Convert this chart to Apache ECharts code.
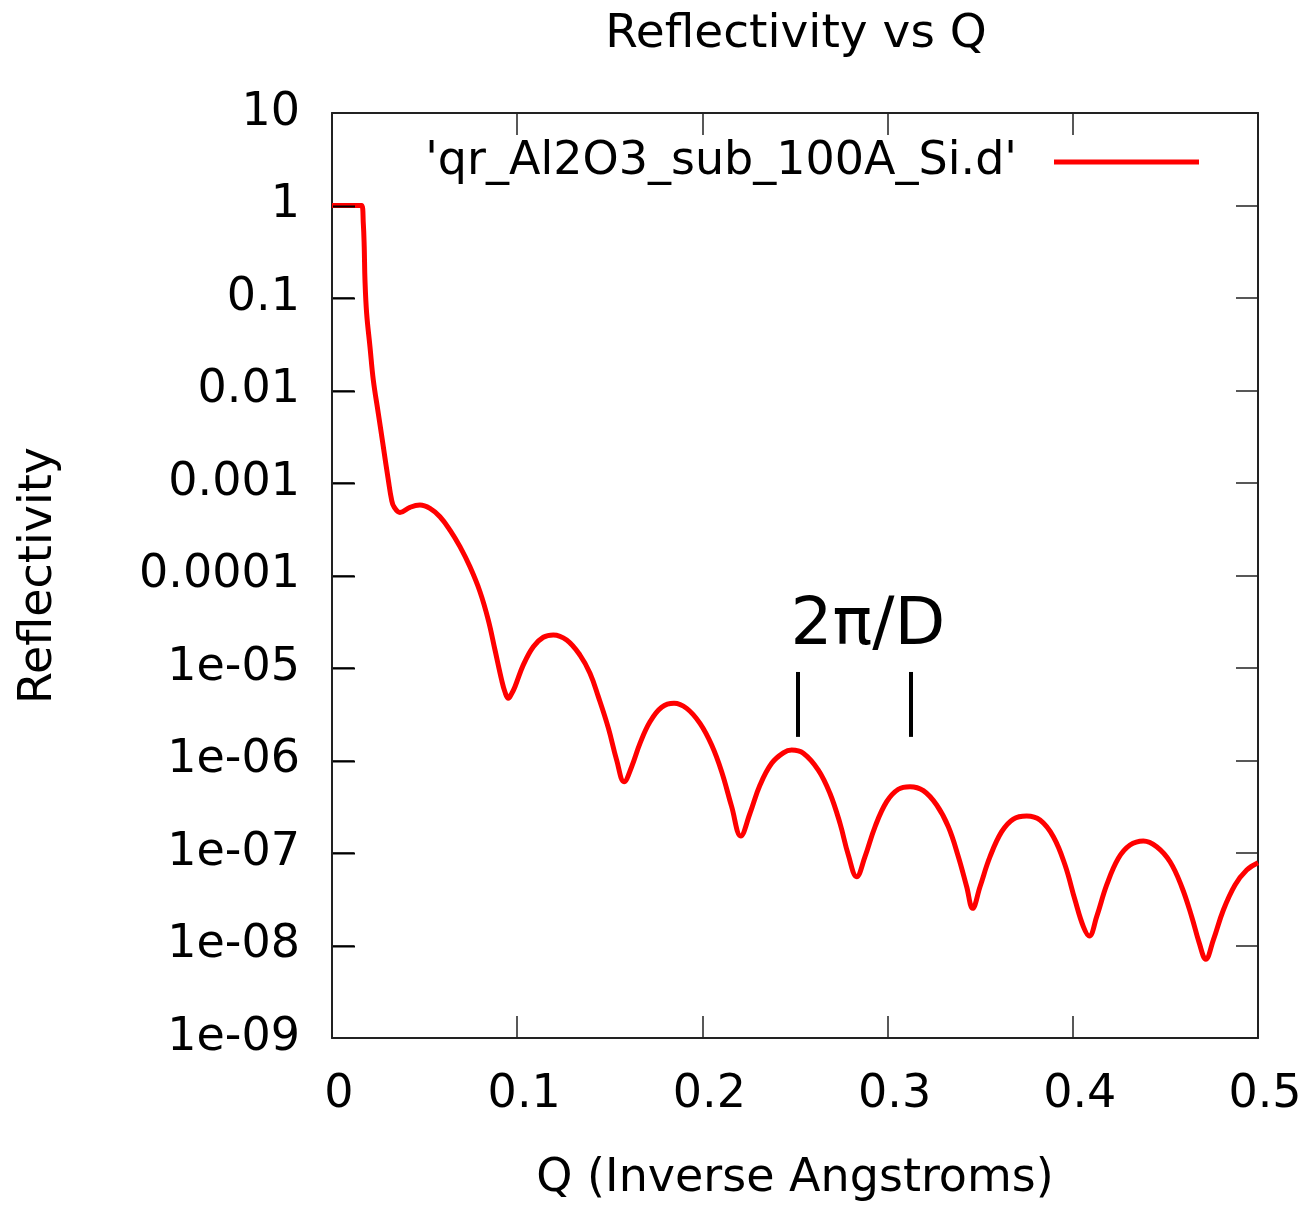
<!DOCTYPE html>
<html>
<head>
<meta charset="utf-8">
<script src="https://cdn.jsdelivr.net/npm/echarts@6/dist/echarts.min.js"></script>
<style>html,body{margin:0;padding:0;background:#fff}#c{width:1315px;height:1209px}</style>
</head>
<body>
<div id="c"></div>
<script>
// Q (inverse Angstroms)
const qValues = [0, 0.0160, 0.0169, 0.0174, 0.0178, 0.0187, 0.0205, 0.0223, 0.0250, 0.0277, 0.0304, 0.0322, 0.0335,
  0.0367, 0.0421, 0.0475, 0.0529, 0.0583, 0.0637, 0.0691, 0.0745, 0.0799, 0.0844, 0.0880, 0.0916, 0.0934, 0.0952,
  0.0969, 0.0988, 0.1033, 0.1087, 0.1141, 0.1195, 0.1267, 0.1339, 0.1393, 0.1438, 0.1492, 0.1537, 0.1577, 0.1618,
  0.1663, 0.1717, 0.1780, 0.1847, 0.1915, 0.1987, 0.2050, 0.2104, 0.2158, 0.2207, 0.2257, 0.2311, 0.2374, 0.2437,
  0.2482, 0.2545, 0.2626, 0.2689, 0.2743, 0.2788, 0.2833, 0.2878, 0.2932, 0.2995, 0.3058, 0.3121, 0.3193, 0.3265,
  0.3328, 0.3382, 0.3427, 0.3459, 0.3499, 0.3553, 0.3616, 0.3679, 0.3751, 0.3823, 0.3895, 0.3958, 0.4012, 0.4057,
  0.4089, 0.4129, 0.4183, 0.4246, 0.4309, 0.4381, 0.4453, 0.4525, 0.4588, 0.4642, 0.4683, 0.4718, 0.4759, 0.4813,
  0.4876, 0.4939, 0.5];
// Reflectivity
const reflValues = [1, 1, 0.642, 0.359, 0.157, 0.0684, 0.0298, 0.0130, 5.67e-3, 2.47e-3, 1.08e-3, 6.55e-4, 5.51e-4,
  4.80e-4, 5.46e-4, 5.78e-4, 5.32e-4, 4.32e-4, 3.10e-4, 2.05e-4, 1.24e-4, 6.68e-5, 3.30e-5, 1.57e-5, 7.41e-6, 5.50e-6, 4.70e-6,
  5.24e-6, 6.28e-6, 1.08e-5, 1.70e-5, 2.15e-5, 2.28e-5, 2.01e-5, 1.38e-5, 8.77e-6, 4.90e-6, 2.25e-6, 1.01e-6, 5.90e-7, 8.57e-7,
  1.53e-6, 2.62e-6, 3.76e-6, 4.15e-6, 3.66e-6, 2.52e-6, 1.47e-6, 7.57e-7, 3.17e-7, 1.53e-7, 2.69e-7, 5.43e-7, 9.33e-7, 1.21e-6,
  1.30e-6, 1.20e-6, 7.89e-7, 4.40e-7, 2.09e-7, 9.51e-8, 5.55e-8, 9.12e-8, 1.92e-7, 3.59e-7, 4.89e-7, 5.21e-7, 4.72e-7, 3.30e-7,
  1.92e-7, 9.12e-8, 4.32e-8, 2.52e-8, 4.32e-8, 9.12e-8, 1.70e-7, 2.33e-7, 2.51e-7, 2.27e-7, 1.50e-7, 7.41e-8, 3.10e-8, 1.60e-8,
  1.27e-8, 2.05e-8, 4.51e-8, 8.77e-8, 1.22e-7, 1.35e-7, 1.17e-7, 8.05e-8, 4.32e-8, 2.05e-8, 1.06e-8, 7.10e-9, 1.15e-8, 2.42e-8,
  4.51e-8, 6.55e-8, 7.85e-8];
const xTickLabels = ['0', '0.1', '0.2', '0.3', '0.4', '0.5'];
const yTickLabels = ['1e-09', '1e-08', '1e-07', '1e-06', '1e-05', '0.0001', '0.001', '0.01', '0.1', '1', '10'];
// annotation: 2π/D markers
const markerQ = [0.2516, 0.3126];
const markerTop = 9.06e-6, markerBottom = 1.80e-6;
const annotText = '2π/D';
const annotPos = [0.2894, 2.8e-5];
const seriesName = "'qr_Al2O3_sub_100A_Si.d'";

const FONT = 'DejaVu Sans';
const X_MIN = 0, X_MAX = 0.5;
const TICK_LEN = 22;
const chart = echarts.init(document.getElementById('c'), null, {renderer: 'canvas'});
const fmtY = v => {
  const e = Math.round(Math.log10(v));
  return yTickLabels[e + 9] !== undefined ? yTickLabels[e + 9] : '';
};
const fmtX = v => {
  const i = Math.round(v * 10);
  return xTickLabels[i] !== undefined ? xTickLabels[i] : '';
};
const axisLineStyle = {color: '#222', width: 2};
const tickStyle = {show: true, inside: true, length: TICK_LEN, lineStyle: {color: '#222', width: 1.5}};
const leftTickValues = yTickLabels.map(s => Number(s)).slice(1, -1);

chart.setOption({
  animation: false,
  backgroundColor: '#fff',
  textStyle: {fontFamily: FONT},
  title: {
    text: 'Reflectivity vs Q', left: 791, top: 6, textAlign: 'center',
    textStyle: {fontFamily: FONT, fontSize: 47, fontWeight: 'normal', color: '#000'}
  },
  legend: {
    right: 111, top: 134, align: 'right', icon: 'rect', itemWidth: 145, itemHeight: 5, itemGap: 0,
    textStyle: {fontFamily: FONT, fontSize: 46, color: '#000', padding: [0, 32, 0, 0]},
    data: [seriesName]
  },
  grid: {left: 332, right: 57, top: 113, bottom: 171, containLabel: false},
  xAxis: [{
    type: 'value', min: X_MIN, max: X_MAX, interval: 0.1, position: 'bottom',
    name: 'Q (Inverse Angstroms)', nameLocation: 'middle', nameGap: 118,
    nameTextStyle: {fontFamily: FONT, fontSize: 46, color: '#000'},
    axisLine: {show: true, onZero: false, lineStyle: axisLineStyle},
    axisTick: tickStyle,
    axisLabel: {formatter: fmtX, fontFamily: FONT, fontSize: 46, color: '#000', margin: 34, padding: [0, 0, 0, 14]},
    splitLine: {show: false}
  }, {
    type: 'value', min: X_MIN, max: X_MAX, interval: 0.1, position: 'top',
    axisLine: {show: true, onZero: false, lineStyle: axisLineStyle},
    axisTick: tickStyle,
    axisLabel: {show: false}, splitLine: {show: false}
  }],
  yAxis: [{
    type: 'log', logBase: 10, min: 1e-9, max: 10, position: 'left',
    name: 'Reflectivity', nameLocation: 'middle', nameGap: 270, nameRotate: 90,
    nameTextStyle: {fontFamily: FONT, fontSize: 46, color: '#000'},
    axisLine: {show: true, onZero: false, lineStyle: axisLineStyle},
    axisTick: tickStyle,
    axisLabel: {formatter: fmtY, fontFamily: FONT, fontSize: 46, color: '#000', margin: 32},
    splitLine: {show: false}, minorTick: {show: false}
  }, {
    type: 'log', logBase: 10, min: 1e-9, max: 10, position: 'right',
    axisLine: {show: true, onZero: false, lineStyle: axisLineStyle},
    axisTick: tickStyle,
    axisLabel: {show: false}, splitLine: {show: false}
  }],
  series: [{
    name: seriesName, type: 'line', xAxisIndex: 0, yAxisIndex: 0,
    data: qValues.map((q, i) => [q, reflValues[i]]),
    showSymbol: false, smooth: 0.4, clip: true, z: 3,
    lineStyle: {color: '#ff0000', width: 5}, itemStyle: {color: '#ff0000'},
    markLine: {
      silent: true, symbol: ['none', 'none'],
      lineStyle: {color: '#000', width: 4, type: 'solid'},
      label: {show: false},
      data: markerQ.map(q => [{coord: [q, markerTop]}, {coord: [q, markerBottom]}])
    },
    markPoint: {
      silent: true, symbol: 'circle', symbolSize: 0,
      label: {show: true, formatter: annotText, fontFamily: FONT, fontSize: 66, color: '#000', position: 'inside'},
      data: [{coord: annotPos}]
    }
  }]
});

// Left-side inward ticks, positioned through the axes' own scales
const tickGraphics = leftTickValues.map(v => {
  const p = chart.convertToPixel({xAxisIndex: 0, yAxisIndex: 0}, [X_MIN, v]);
  const x0 = p[0] + 1, y0 = Math.round(p[1]) + 0.5;
  return {
    type: 'line', z: 100, zlevel: 1, silent: true,
    shape: {x1: x0, y1: y0, x2: x0 + TICK_LEN, y2: y0},
    style: {stroke: '#000', lineWidth: 2}
  };
});
chart.setOption({graphic: {elements: tickGraphics}});
</script>
</body>
</html>
